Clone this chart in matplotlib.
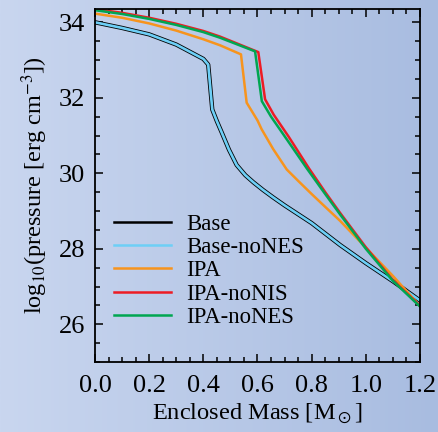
import numpy as np
import matplotlib
matplotlib.use('Agg')
from matplotlib import pyplot as plt
from matplotlib.lines import Line2D
from matplotlib.colors import LinearSegmentedColormap


# enclosed mass [Msun] and log10 pressure for each run
m_base = [0.0, 0.1, 0.2, 0.3, 0.4, 0.418, 0.433, 0.45, 0.468, 0.495, 0.523,
          0.555, 0.585, 0.62, 0.658, 0.7, 0.8, 0.905, 1.0, 1.1, 1.2]
p_base = [34.0, 33.85, 33.68, 33.41, 33.03, 32.88, 31.69, 31.38, 31.08,
          30.62, 30.22, 29.95, 29.76, 29.56, 29.36, 29.15, 28.68, 28.10,
          27.62, 27.14, 26.63]

m_base_nones = m_base
p_base_nones = p_base

m_ipa = [0.0, 0.1, 0.2, 0.3, 0.4, 0.462, 0.539, 0.560, 0.6, 0.615, 0.658,
         0.708, 0.75, 0.8, 0.85, 0.905, 1.0, 1.1, 1.2]
p_ipa = [34.23, 34.12, 33.97, 33.78, 33.55, 33.39, 33.15, 31.87, 31.40,
         31.17, 30.64, 30.10, 29.80, 29.45, 29.11, 28.74, 28.03, 27.28, 26.48]

m_ipa_nonis = [0.0, 0.1, 0.2, 0.3, 0.4, 0.462, 0.603, 0.628, 0.66, 0.715,
               0.79, 0.85, 0.905, 1.0, 1.1, 1.2]
p_ipa_nonis = [34.35, 34.25, 34.12, 33.96, 33.77, 33.62, 33.21, 31.96,
               31.55, 30.97, 30.13, 29.50, 28.95, 28.04, 27.17, 26.49]

m_ipa_nones = [0.0, 0.1, 0.2, 0.3, 0.4, 0.462, 0.591, 0.616, 0.65, 0.708,
               0.782, 0.85, 0.905, 1.0, 1.1, 1.2]
p_ipa_nones = [34.32, 34.22, 34.09, 33.93, 33.74, 33.59, 33.23, 31.91,
               31.50, 30.90, 30.13, 29.45, 28.91, 28.00, 27.15, 26.47]

labels = ['Base', 'Base-noNES', 'IPA', 'IPA-noNIS', 'IPA-noNES']
colors = ['black', '#6dcff6', '#f7941d', '#ed1c24', '#00a651']

plt.rcParams['font.family'] = ['Liberation Serif', 'DejaVu Serif']
plt.rcParams['mathtext.fontset'] = 'stix'

fig = plt.figure(figsize=(4.39, 4.32), dpi=100)

# horizontal background gradient
bg = fig.add_axes([0, 0, 1, 1], zorder=-10)
cmap = LinearSegmentedColormap.from_list('bg', ['#c9d6ef', '#a8bce0'])
bg.imshow(np.linspace(0, 1, 256)[None, :], aspect='auto', cmap=cmap,
          extent=[0, 1, 0, 1])
bg.set_axis_off()

ax = fig.add_axes([0.2164, 0.162, 0.7403, 0.817])
ax.patch.set_alpha(0)

ax.plot(m_base, p_base, color=colors[0], lw=3.1)
ax.plot(m_base_nones, p_base_nones, color=colors[1], lw=1.9)
ax.plot(m_ipa, p_ipa, color=colors[2], lw=1.8)
ax.plot(m_ipa_nonis, p_ipa_nonis, color=colors[3], lw=1.8)
ax.plot(m_ipa_nones, p_ipa_nones, color=colors[4], lw=1.8)

ax.set_xlim(0, 1.2)
ax.set_ylim(25, 34.35)
ax.set_xticks(np.arange(0, 1.21, 0.2))
ax.set_xticks(np.arange(0, 1.21, 0.05), minor=True)
ax.set_yticks([26, 28, 30, 32, 34])
ax.set_yticks(np.arange(25, 34.4, 0.5), minor=True)
ax.xaxis.set_major_formatter(matplotlib.ticker.FormatStrFormatter('%.1f'))
ax.tick_params(which='both', direction='in', top=True, right=True,
               labelsize=19, width=1.1)
ax.tick_params(which='major', length=6, pad=7)
ax.tick_params(axis='x', which='major', pad=9)
ax.tick_params(which='minor', length=3.5)
for s in ax.spines.values():
    s.set_linewidth(1.3)

ax.set_xlabel(r'Enclosed Mass [M$_\odot$]', fontsize=17.6, labelpad=4)
ax.set_ylabel(r'log$_{10}$(pressure [erg cm$^{-3}$])', fontsize=17.5,
              labelpad=6)

handles = [Line2D([], [], color=c, lw=1.8) for c in colors]
ax.legend(handles, labels, loc='upper left', bbox_to_anchor=(0.06, 0.42),
          frameon=False, fontsize=16.4, handlelength=2.5, handletextpad=0.65,
          labelspacing=0.1, borderpad=0, borderaxespad=0)

fig.savefig('out.png', dpi=100)
